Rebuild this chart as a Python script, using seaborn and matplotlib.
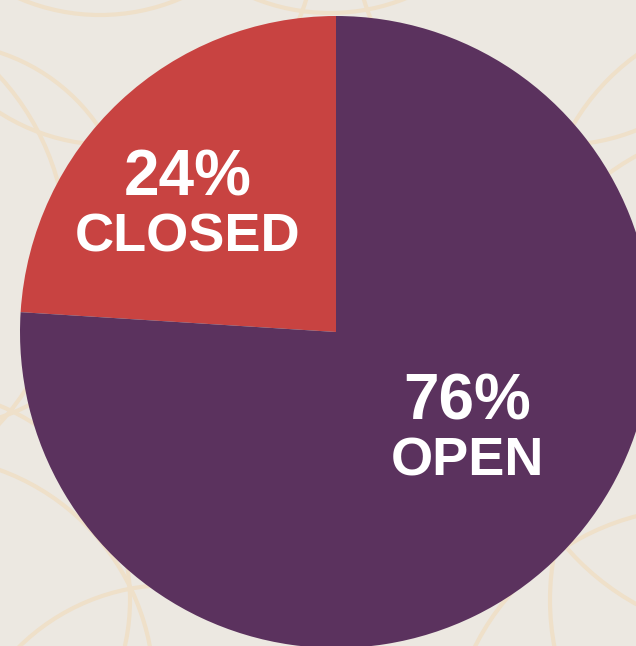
import matplotlib
matplotlib.use("Agg")
import matplotlib.pyplot as plt
import seaborn as sns

# data
labels = ["CLOSED", "OPEN"]
shares = [24, 76]
colors = ["#C84341", "#5B325E"]

sns.set_theme(style="white")
plt.rcParams['font.family'] = ['Liberation Sans', 'DejaVu Sans']

W, H = 636, 646
fig = plt.figure(figsize=(W / 100, H / 100), dpi=100)
fig.patch.set_facecolor("#ECE8E1")

# background pattern of faint rings (image pixel coords, y down)
bg = fig.add_axes([0, 0, 1, 1])
bg.set_xlim(0, W)
bg.set_ylim(H, 0)
bg.axis("off")
rings = [(-60, 235, 192), (-190, 250, 257), (100, -190, 205), (330, -190, 203),
         (110, -60, 205), (560, -60, 205),
         (-80, 690, 234), (170, 800, 215), (-80, 600, 210),
         (770, 240, 228), (760, 380, 256),
         (700, 760, 252), (800, 600, 250)]
for cx, cy, r in rings:
    bg.add_patch(plt.Circle((cx, cy), r, fill=False, color="#EFE0C9", lw=3))

# pie
ax = fig.add_axes([0, 0, 1, 1])
ax.patch.set_alpha(0)
cx, cy, rad = 336, H - 332, 316
ax.pie(shares, colors=colors, startangle=90, counterclock=True,
       center=(cx, cy), radius=rad, wedgeprops=dict(linewidth=0))
ax.set_xlim(0, W)
ax.set_ylim(0, H)
ax.set_aspect("auto")
ax.axis("off")

label_pos = {"CLOSED": (188, 196), "OPEN": (467, 420)}
for lab, val in zip(labels, shares):
    x, y = label_pos[lab]
    ax.text(x, H - y, f"{val}%", ha="center", va="baseline", color="white",
            fontsize=46, fontweight="bold")
    ax.text(x, H - y - 55, lab, ha="center", va="baseline", color="white",
            fontsize=39, fontweight="bold")

fig.savefig("out.png", dpi=100, facecolor=fig.get_facecolor())
